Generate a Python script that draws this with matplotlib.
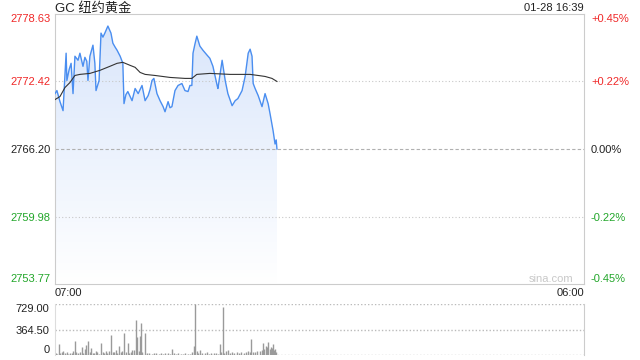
import numpy as np
import matplotlib.pyplot as plt
from matplotlib.colors import LinearSegmentedColormap
from matplotlib.patches import Polygon

plt.rcParams['font.family'] = ['Liberation Sans', 'Noto Sans CJK SC', 'DejaVu Sans']

# price (minutes after 07:00)
minutes = [0, 5, 13, 21, 29, 31, 37, 42, 47, 52,
           60, 65, 73, 78, 83, 86, 91, 99, 104, 107,
           115, 120, 125, 130, 138, 146, 151, 157, 162, 170,
           177, 180, 185, 190, 196, 201, 209, 217, 222, 227,
           235, 243, 248, 253, 258, 266, 274, 282, 287, 295,
           300, 305, 313, 321, 331, 339, 347, 352, 357, 360,
           365, 370, 378, 386, 397, 404, 412, 423, 425, 436,
           444, 451, 462, 470, 477, 488, 496, 504, 509, 514,
           517, 522, 530, 540, 548, 556, 561, 569, 574, 577,
           579]
prices = [2771.30, 2771.58, 2770.56, 2769.73, 2775.02, 2772.51, 2773.53, 2774.09, 2771.30, 2774.74,
          2774.37, 2775.02, 2773.81, 2774.64, 2774.27, 2772.51, 2774.74, 2775.76, 2774.09, 2771.58,
          2772.51, 2776.87, 2776.50, 2776.87, 2777.52, 2776.87, 2775.94, 2775.57, 2775.29, 2774.74,
          2774.09, 2770.38, 2771.21, 2771.49, 2771.03, 2770.65, 2771.77, 2771.30, 2771.68, 2772.05,
          2770.65, 2771.12, 2771.68, 2772.51, 2772.70, 2771.30, 2770.65, 2770.10, 2769.63, 2770.56,
          2770.00, 2770.10, 2771.58, 2772.05, 2772.23, 2771.58, 2771.49, 2772.05, 2772.05, 2775.02,
          2775.85, 2776.59, 2775.67, 2775.29, 2774.83, 2774.55, 2773.81, 2772.05, 2771.77, 2774.37,
          2772.51, 2771.30, 2770.19, 2770.65, 2770.84, 2771.58, 2772.88, 2775.02, 2775.39, 2774.74,
          2772.23, 2771.77, 2771.12, 2770.10, 2771.30, 2770.38, 2769.45, 2767.87, 2766.66, 2767.04,
          2766.20]

# average price line
avg_min = [0, 13, 26, 39, 52, 65, 91, 117, 143, 162, 177, 196, 209, 222, 235,
           261, 300, 339, 357, 370, 404, 457, 509, 530, 548, 566, 579]
avg_price = [2770.75, 2771.03, 2771.86, 2772.32, 2772.97, 2773.07, 2773.16, 2773.44, 2773.81,
             2774.09, 2774.18, 2773.90, 2773.72, 2773.25, 2773.07, 2772.97, 2772.79, 2772.70,
             2772.70, 2773.07, 2773.16, 2773.07, 2773.07, 2772.97, 2772.88, 2772.70, 2772.42]

# volume
vol_min = [2, 6, 10, 14, 18, 22, 27, 31, 35, 40, 44, 48, 52, 56, 60, 64, 70, 74, 78, 81,
           86, 90, 94, 98, 102, 106, 110, 114, 120, 124, 128, 132, 136, 140, 146, 150, 155, 159, 163, 167,
           171, 175, 180, 184, 190, 194, 198, 201, 206, 211, 214, 218, 222, 224, 228, 235, 240, 246, 252, 258,
           264, 270, 276, 282, 288, 294, 300, 305, 310, 316, 322, 328, 334, 340, 346, 352, 358, 363, 365, 370,
           374, 378, 384, 390, 396, 402, 408, 414, 420, 426, 430, 434, 438, 442, 446, 451, 456, 462, 468, 474,
           480, 486, 492, 498, 504, 508, 511, 516, 522, 528, 534, 540, 543, 546, 550, 553, 556, 560, 564, 567,
           569, 572, 574, 577]
vol = [30, 20, 157, 25, 40, 55, 30, 45, 20, 35, 28, 60, 200, 40, 30, 50, 115, 35, 90, 143,
       200, 40, 100, 30, 25, 60, 45, 20, 172, 40, 30, 55, 35, 60, 286, 40, 50, 72, 35, 130,
       45, 60, 315, 40, 172, 30, 50, 72, 72, 500, 258, 60, 272, 458, 40, 315, 30, 25, 20, 30,
       25, 20, 35, 20, 30, 25, 20, 86, 25, 20, 30, 15, 20, 25, 15, 20, 40, 130, 729, 60,
       35, 72, 30, 25, 40, 20, 30, 25, 35, 20, 157, 40, 686, 35, 60, 72, 30, 40, 25, 45,
       30, 50, 35, 45, 60, 40, 229, 50, 45, 60, 55, 70, 172, 90, 130, 110, 186, 80, 115, 100,
       157, 70, 86, 40]

levels = [2753.77, 2759.98, 2766.20, 2772.42, 2778.63]
level_labels = ['2753.77', '2759.98', '2766.20', '2772.42', '2778.63']
pct_labels = ['-0.45%', '-0.22%', '0.00%', '+0.22%', '+0.45%']
vol_ticks = [0, 364.5, 729]
vol_labels = ['0', '364.50', '729.00']

red = '#f02828'
green = '#22a62a'
label_colors = [green, green, '#222222', red, red]
lo, hi = levels[0], levels[-1]

fig = plt.figure(figsize=(6.4, 3.6), dpi=100)
ax = fig.add_axes([55/640, 1-284/360, 529/640, 270/360])
axv = fig.add_axes([55/640, 1-355/360, 529/640, 51/360])

# gradient fill under price
grad = np.linspace(1, 0, 256).reshape(-1, 1)
cmap = LinearSegmentedColormap.from_list('fill', ['#ffffff', '#d8e5fb'])
im = ax.imshow(grad, cmap=cmap, aspect='auto', extent=[0, minutes[-1], lo, hi],
               origin='upper', zorder=1)
verts = list(zip(minutes, prices)) + [(minutes[-1], lo), (0, lo)]
clip = Polygon(verts, closed=True, facecolor='none', edgecolor='none')
ax.add_patch(clip)
im.set_clip_path(clip)

for lv in [2759.98, 2772.42]:
    ax.axhline(lv, color='#c8c8c8', lw=0.8, ls=(0, (1, 2)), zorder=2)
ax.axhline(2766.20, color='#b0b0b0', lw=0.8, ls=(0, (3, 2)), zorder=2)

ax.plot(minutes, prices, color='#4a8ef0', lw=1.0, zorder=3)
ax.plot(avg_min, avg_price, color='#333333', lw=0.8, zorder=4)

ax.set_xlim(0, 1380)
ax.set_ylim(lo, hi)
for s in ax.spines.values():
    s.set_color('#cccccc')

ax.set_yticks(levels)
ax.set_yticklabels(level_labels)
ax.tick_params(axis='y', length=0, labelsize=8, pad=3)
ylabs = ax.get_yticklabels()
for lab, c in zip(ylabs, label_colors):
    lab.set_color(c)
ylabs[0].set_verticalalignment('bottom')
ylabs[-1].set_verticalalignment('top')

ax.set_xticks([0, 1380])
ax.set_xticklabels(['07:00', '06:00'])
ax.tick_params(axis='x', length=0, labelsize=8, pad=3, colors='#222222')
xlabs = ax.get_xticklabels()
xlabs[0].set_horizontalalignment('left')
xlabs[1].set_horizontalalignment('right')

axr = ax.twinx()
axr.set_ylim(lo, hi)
axr.set_yticks(levels)
axr.set_yticklabels(pct_labels)
axr.tick_params(axis='y', length=0, labelsize=8, pad=5)
rlabs = axr.get_yticklabels()
for lab, c in zip(rlabs, label_colors):
    lab.set_color(c)
rlabs[0].set_verticalalignment('bottom')
rlabs[-1].set_verticalalignment('top')
for s in axr.spines.values():
    s.set_visible(False)

ax.text(0.979, 0.018, 'sina.com', transform=ax.transAxes, ha='right', va='center',
        fontsize=8, color='#c8c8c8')

# volume panel
axv.vlines(vol_min, 0, vol, color='#9a9a9a', lw=1.0, zorder=2)
for v in vol_ticks:
    axv.axhline(v, color='#bbbbbb', lw=1.0, ls=(0, (1, 1.5)), zorder=1)
axv.set_xlim(0, 1380)
axv.set_ylim(0, 729)
axv.set_xticks([])
axv.set_yticks(vol_ticks)
axv.set_yticklabels(vol_labels)
axv.tick_params(axis='y', length=0, labelsize=8, pad=4, colors='#222222')
vlabs = axv.get_yticklabels()
vlabs[0].set_verticalalignment('bottom')
vlabs[-1].set_verticalalignment('top')
axv.spines['top'].set_visible(False)
axv.spines['bottom'].set_visible(False)
axv.spines['left'].set_color('#dddddd')
axv.spines['right'].set_color('#cccccc')

fig.text(55/640, 1-8/360, 'GC 纽约黄金', fontsize=9.5, va='center', ha='left', color='#222222')
fig.text(584/640, 1-8/360, '01-28 16:39', fontsize=8, va='center', ha='right', color='#222222')

fig.savefig('out.png', dpi=100)
